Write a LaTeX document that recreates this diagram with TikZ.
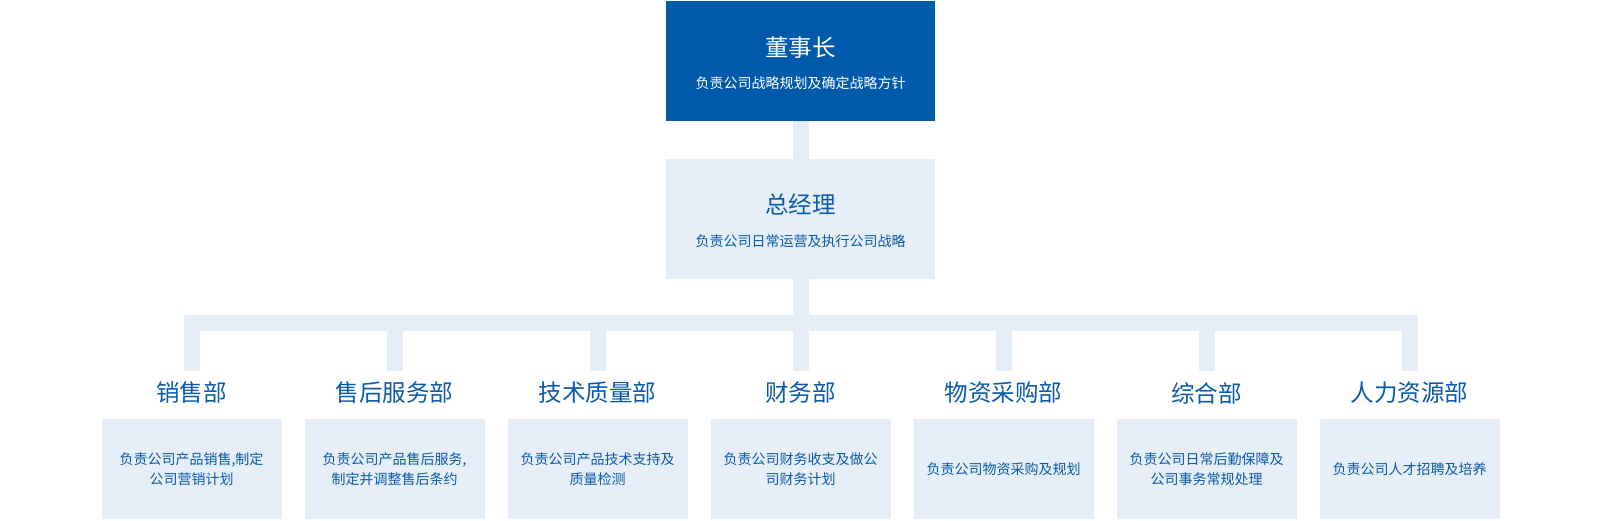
\documentclass[tikz,border=0pt]{standalone}
\usepackage{fontspec}
\setmainfont{Noto Sans CJK SC}
\definecolor{darkblue}{HTML}{005AAB}
\definecolor{lightbg}{HTML}{E6EEF7}
\definecolor{textblue}{HTML}{0A5BAB}
\begin{document}
\begin{tikzpicture}[x=1pt,y=-1pt,
  darkbox/.style={fill=darkblue,draw=none,inner sep=0pt,minimum width=269pt,minimum height=120pt},
  lightbox/.style={fill=lightbg,draw=none,inner sep=0pt,minimum width=269pt,minimum height=120pt},
  deptbox/.style={fill=lightbg,draw=none,inner sep=0pt,minimum width=180pt,minimum height=100pt,
    align=center,text=textblue,font=\fontsize{14}{20}\selectfont},
  bigtxt/.style={inner sep=0pt,font=\fontsize{23.5}{28}\selectfont},
  smalltxt/.style={inner sep=0pt,font=\fontsize{14}{20}\selectfont},
  depttitle/.style={inner sep=0pt,minimum height=44pt,text=textblue,font=\fontsize{23.5}{28}\selectfont},
  conn/.style={draw=lightbg,line width=16pt,line cap=butt}]
\useasboundingbox[fill=white] (0,0) rectangle (1600,520);
% top
\node[darkbox] (ceo) at (800.5,61) {};
\node[bigtxt,text=white,anchor=base] (ceoT) at (800.5,56) {董事长};
\node[smalltxt,text=white,anchor=base] (ceoS) at (800.5,88.3) {负责公司战略规划及确定战略方针};
\node[lightbox] (gm) at (800.5,219) {};
\node[bigtxt,text=textblue,anchor=base] (gmT) at (800.5,213) {总经理};
\node[smalltxt,text=textblue,anchor=base] (gmS) at (800.5,246.3) {负责公司日常运营及执行公司战略};
\draw[conn] (ceo.south) -- (gm.north);
\coordinate (busL) at (184,323);
\coordinate (busR) at (1418,323);
\draw[conn] (gm.south) -- (gm.south |- busL);
\draw[conn] (busL) -- (busR);
% departments
\foreach \i/\t/\d in {0/销售部/{负责公司产品销售,制定\\公司营销计划},
  1/售后服务部/{负责公司产品售后服务,\\制定并调整售后条约},
  2/技术质量部/{负责公司产品技术支持及\\质量检测},
  3/财务部/{负责公司财务收支及做公\\司财务计划},
  4/物资采购部/{负责公司物资采购及规划},
  5/综合部/{负责公司日常后勤保障及\\公司事务常规处理},
  6/人力资源部/{负责公司人才招聘及培养}}{
  \pgfmathsetmacro{\cx}{191.5+203*\i}
  \node[depttitle] (title\i) at (\cx,393) {\t};
  \node[deptbox] (box\i) at (\cx,469) {\d};
  \draw[conn] (title\i.north |- busL) -- (title\i.north);
}
\end{tikzpicture}
\end{document}
